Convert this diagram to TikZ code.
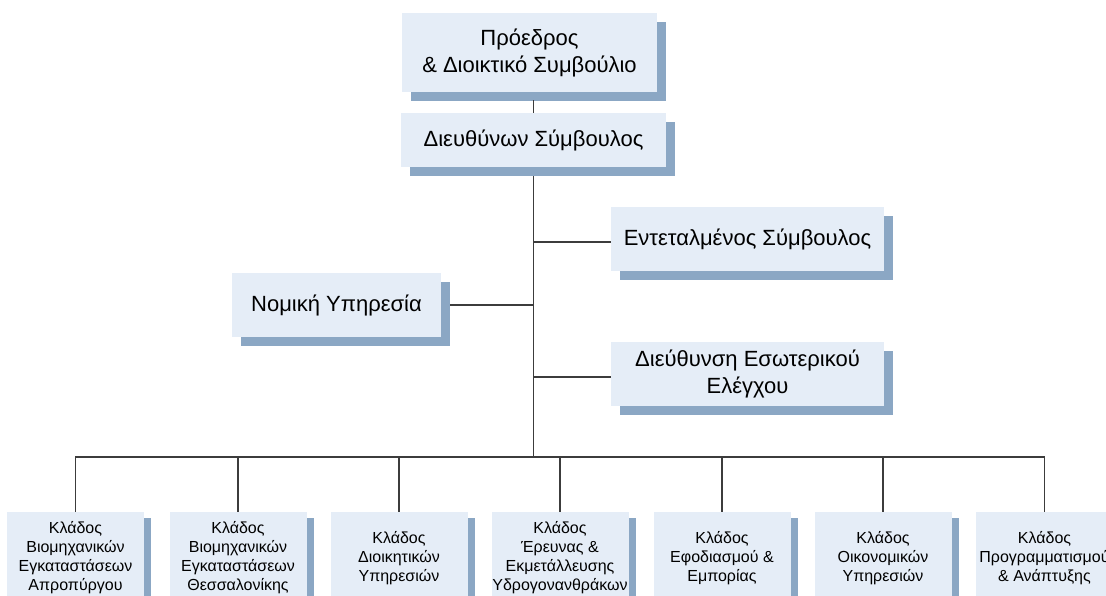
\documentclass[tikz,border=0pt]{standalone}
\usepackage{fontspec}
\setmainfont{Liberation Sans}
\usetikzlibrary{shadows}
\definecolor{boxfill}{RGB}{229,237,247}
\definecolor{boxshadow}{RGB}{139,167,196}
\definecolor{linec}{RGB}{60,60,60}
\tikzset{
 orgbox/.style={fill=boxfill, draw=none, align=center, inner sep=0pt,
   font=\fontsize{22}{27}\selectfont,
   drop shadow={shadow xshift=9pt, shadow yshift=-9pt, fill=boxshadow, opacity=1}},
 subbox/.style={fill=boxfill, draw=none, align=center, inner sep=0pt,
   minimum width=137pt, minimum height=92pt,
   font=\fontsize{16}{19}\selectfont,
   drop shadow={shadow xshift=7pt, shadow yshift=-6pt, fill=boxshadow, opacity=1}},
 conn/.style={draw=linec, line width=1.2pt},
}
\begin{document}
\begin{tikzpicture}[x=1pt,y=-1pt]
\useasboundingbox (0,0) rectangle (1106,596);
\clip (0,0) rectangle (1106,596);
\fill[white] (0,0) rectangle (1106,596);

\node[orgbox, minimum width=255pt, minimum height=79pt] (pres) at (529.5,52.5) {Πρόεδρος\\\& Διοικτικό Συμβούλιο};
\node[orgbox, minimum width=265pt, minimum height=54pt] (dir) at (533.5,140) {Διευθύνων Σύμβουλος};
\node[orgbox, minimum width=273pt, minimum height=64pt] (ent) at (747.5,239) {Εντεταλμένος Σύμβουλος};
\node[orgbox, minimum width=209pt, minimum height=64pt] (nom) at (336.5,305) {Νομική Υπηρεσία};
\node[orgbox, minimum width=273pt, minimum height=64pt] (aud) at (747.5,374) {Διεύθυνση Εσωτερικού\\Ελέγχου};

\node[subbox] (b1) at (75.5,558) {Κλάδος\\Βιομηχανικών\\Εγκαταστάσεων\\Απροπύργου};
\node[subbox] (b2) at (238,558) {Κλάδος\\Βιομηχανικών\\Εγκαταστάσεων\\Θεσσαλονίκης};
\node[subbox] (b3) at (399,558) {Κλάδος\\Διοικητικών\\Υπηρεσιών};
\node[subbox] (b4) at (560,558) {Κλάδος\\Έρευνας \&\\Εκμετάλλευσης\\Υδρογονανθράκων};
\node[subbox] (b5) at (722,558) {Κλάδος\\Εφοδιασμού \&\\Εμπορίας};
\node[subbox] (b6) at (883,558) {Κλάδος\\Οικονομικών\\Υπηρεσιών};
\node[subbox] (b7) at (1044.5,558) {Κλάδος\\Προγραμματισμού\\\& Ανάπτυξης};

\coordinate (bus) at (533.5,457);

\draw[conn] ([yshift=-8pt]pres.south -| dir.north) -- (dir.north);
\draw[conn] ([yshift=-9pt]dir.south) -- (bus);
\draw[conn] ([yshift=-3pt]ent.west) -- ([yshift=-3pt]ent.west -| dir.south);
\draw[conn] ([xshift=9pt]nom.east) -- (nom.east -| dir.south);
\draw[conn] ([yshift=-3pt]aud.west) -- ([yshift=-3pt]aud.west -| dir.south);

\draw[conn] (b1.north) |- (bus) -| (b7.north);
\foreach \b in {b2,b3,b4,b5,b6}{
  \draw[conn] (\b.north) -- (\b.north |- bus);
}
\end{tikzpicture}
\end{document}
